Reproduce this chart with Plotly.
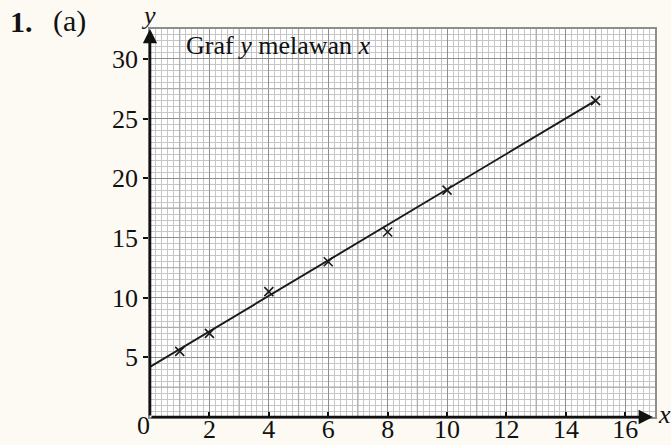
import plotly.graph_objects as go

# Measured points and the straight line of best fit through them
x_vals = [1, 2, 4, 6, 8, 10, 15]
y_vals = [5.5, 7, 10.5, 13, 15.5, 19, 26.5]
fit_x = [0, 15]
fit_y = [4.2, 26.5]

x_ticks = [2, 4, 6, 8, 10, 12, 14, 16]
y_ticks = [5, 10, 15, 20, 25, 30]

X_MAX = 17
Y_MAX = 32.5

SERIF = "Liberation Serif, Times New Roman, serif"
FS = 26

# plot-area geometry (pixels)
W, H = 671, 445
ML, MR, MT, MB = 150, 16, 29, 28
PW, PH = W - ML - MR, H - MT - MB


def px(xp):
    return (xp - ML) / PW


def py(yp):
    return (H - MB - yp) / PH


fig = go.Figure()

fig.add_trace(go.Scatter(
    x=fit_x, y=fit_y, mode="lines",
    line=dict(color="#1a1a1a", width=1.9),
    hoverinfo="skip", showlegend=False,
))
fig.add_trace(go.Scatter(
    x=x_vals, y=y_vals, mode="markers",
    marker=dict(symbol="x-thin", size=9, line=dict(color="#1a1a1a", width=1.6)),
    showlegend=False,
))

# Medium graph-paper lines (every 1 unit in x, every 2.5 units in y)
shapes = []
for i in range(1, X_MAX, 2):
    shapes.append(dict(type="line", xref="x", yref="y", x0=i, x1=i, y0=0, y1=Y_MAX,
                       line=dict(color="#acacac", width=1.2), layer="between"))
k = 2.5
while k < Y_MAX:
    shapes.append(dict(type="line", xref="x", yref="y", x0=0, x1=X_MAX, y0=k, y1=k,
                       line=dict(color="#acacac", width=1.2), layer="between"))
    k += 5

txt = dict(family=SERIF, size=FS, color="#111")
big = dict(family=SERIF, size=30, color="#111")
annotations = [
    # axis arrows
    dict(x=0, y=Y_MAX, ax=0, ay=0, xref="x", yref="y", axref="x", ayref="y",
         showarrow=True, arrowhead=2, arrowsize=1.1, arrowwidth=2.6, arrowcolor="#111", text=""),
    dict(x=16.93, y=0, ax=0, ay=0, xref="x", yref="y", axref="x", ayref="y",
         showarrow=True, arrowhead=2, arrowsize=1.1, arrowwidth=2.6, arrowcolor="#111", text=""),
    # axis names
    dict(x=px(148), y=py(16), xref="paper", yref="paper", text="<i>y</i>", showarrow=False,
         font=txt, xanchor="center", yanchor="middle"),
    dict(x=px(664), y=py(414), xref="paper", yref="paper", text="<i>x</i>", showarrow=False,
         font=txt, xanchor="center", yanchor="middle"),
    # origin label
    dict(x=px(143), y=py(426), xref="paper", yref="paper", text="0", showarrow=False,
         font=txt, xanchor="center", yanchor="middle"),
    # graph title
    dict(x=1.15, y=31.1, xref="x", yref="y", text="Graf <i>y</i> melawan <i>x</i>",
         showarrow=False, font=txt, xanchor="left", yanchor="middle"),
    # question number
    dict(x=px(8), y=py(21), xref="paper", yref="paper", text="<b>1.</b>", showarrow=False,
         font=big, xanchor="left", yanchor="middle"),
    dict(x=px(51), y=py(21), xref="paper", yref="paper", text="(a)", showarrow=False,
         font=big, xanchor="left", yanchor="middle"),
]

fig.update_layout(
    width=W, height=H,
    margin=dict(l=ML, r=MR, t=MT, b=MB, autoexpand=False),
    paper_bgcolor="#fdf9f3",
    plot_bgcolor="#ffffff",
    font=txt,
    shapes=shapes,
    annotations=annotations,
    showlegend=False,
)

fig.update_xaxes(
    range=[0, X_MAX], tickmode="array", tickvals=x_ticks,
    ticktext=[str(v) for v in x_ticks],
    showgrid=True, gridcolor="#8e8e8e", gridwidth=1.4,
    minor=dict(dtick=0.2, tick0=0, showgrid=True, gridcolor="#c6c6c6", gridwidth=1, ticks=""),
    ticks="inside", ticklen=5, tickwidth=2.2, tickcolor="#111",
    ticklabelstandoff=-12,
    showline=True, linecolor="#8e8e8e", linewidth=1.5, mirror=True,
    zeroline=False, automargin=False, fixedrange=True,
    tickfont=txt,
)
fig.update_yaxes(
    range=[0, Y_MAX], tickmode="array", tickvals=y_ticks,
    ticktext=[str(v) for v in y_ticks],
    showgrid=True, gridcolor="#8e8e8e", gridwidth=1.4,
    minor=dict(dtick=0.5, tick0=0, showgrid=True, gridcolor="#c6c6c6", gridwidth=1, ticks=""),
    ticks="outside", ticklen=5, tickwidth=2.2, tickcolor="#111",
    showline=True, linecolor="#8e8e8e", linewidth=1.5, mirror=True,
    zeroline=False, automargin=False, fixedrange=True,
    tickfont=txt,
)

fig.write_html("out.html")
